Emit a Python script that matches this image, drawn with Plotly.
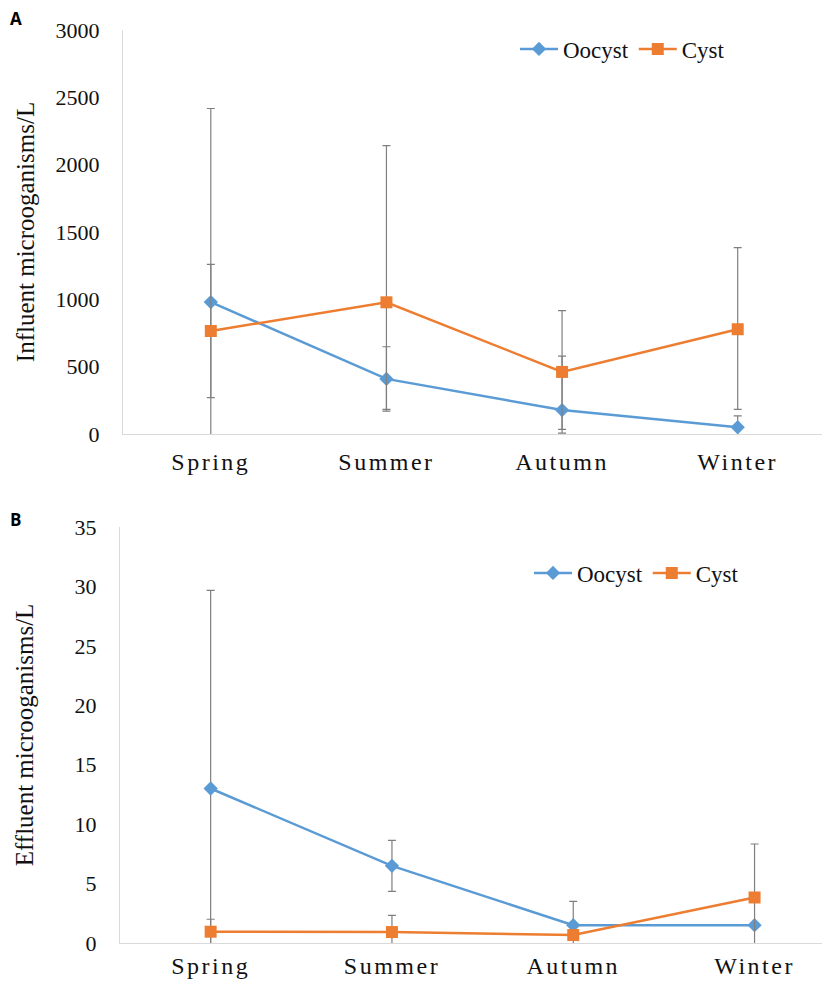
import plotly.graph_objects as go

seasons = ["Spring", "Summer", "Autumn", "Winter"]

# Panel A: influent
inf_oocyst = [980, 409, 178, 50]
inf_oocyst_plus = [1437, 239, 401, 84]
inf_oocyst_minus = [1437, 239, 143, 84]
inf_cyst = [765, 978, 461, 778]
inf_cyst_plus = [495, 1163, 455, 606]
inf_cyst_minus = [495, 795, 455, 595]

# Panel B: effluent
eff_oocyst = [13.0, 6.49, 1.5, 1.5]
eff_oocyst_plus = [16.67, 2.15, 2.0, 0]
eff_oocyst_minus = [16.67, 2.15, 2.0, 0]
eff_cyst = [0.95, 0.92, 0.67, 3.83]
eff_cyst_plus = [1.05, 1.4, 0.3, 4.5]
eff_cyst_minus = [1.05, 1.4, 0.3, 4.5]

BLUE = "#5B9BD5"
ORANGE = "#ED7D31"
ERR = "#7F7F7F"
AXC = "#D9D9D9"
SERIF = "Liberation Serif"

W, H = 822, 983

def px_x(x):
    return x / W

def px_y(y):
    return 1 - y / H

fig = go.Figure()

def add_pair(oo, oo_p, oo_m, cy, cy_p, cy_m, xa, ya, leg):
    fig.add_trace(go.Scatter(
        x=seasons, y=oo, name="Oocyst", mode="lines+markers",
        line=dict(color=BLUE, width=2.5),
        marker=dict(symbol="diamond", size=11, color=BLUE),
        error_y=dict(type="data", symmetric=False, array=oo_p, arrayminus=oo_m,
                     color=ERR, thickness=1.2, width=4),
        xaxis=xa, yaxis=ya, legend=leg))
    fig.add_trace(go.Scatter(
        x=seasons, y=cy, name="Cyst", mode="lines+markers",
        line=dict(color=ORANGE, width=2.5),
        marker=dict(symbol="square", size=12, color=ORANGE),
        error_y=dict(type="data", symmetric=False, array=cy_p, arrayminus=cy_m,
                     color=ERR, thickness=1.2, width=4),
        xaxis=xa, yaxis=ya, legend=leg))

add_pair(inf_oocyst, inf_oocyst_plus, inf_oocyst_minus,
         inf_cyst, inf_cyst_plus, inf_cyst_minus, "x", "y", "legend")
add_pair(eff_oocyst, eff_oocyst_plus, eff_oocyst_minus,
         eff_cyst, eff_cyst_plus, eff_cyst_minus, "x2", "y2", "legend2")

xticktext = ['<span style="letter-spacing:2.5px">%s</span>' % s for s in seasons]

common_x = dict(
    type="category", showline=True, linecolor=AXC, linewidth=1.3,
    showgrid=False, zeroline=False, ticks="", automargin=False,
    tickvals=seasons, ticktext=xticktext,
    tickfont=dict(family=SERIF, size=24, color="#111"),
)
common_y = dict(
    showline=True, linecolor=AXC, linewidth=1.3, showgrid=False, automargin=False,
    zeroline=False, ticks="", tickfont=dict(family=SERIF, size=22, color="#111"),
    ticklabelstandoff=18,
)

legend_font = dict(family=SERIF, size=23, color="#111")

fig.update_layout(
    width=W, height=H,
    margin=dict(l=0, r=0, t=0, b=0, pad=0, autoexpand=False),
    font=dict(family=SERIF, color="#111"),
    paper_bgcolor="white", plot_bgcolor="white",
    showlegend=True,
    xaxis=dict(common_x, domain=[px_x(123), 1], range=[-0.5, 3.48], anchor="y",
               ticklabelstandoff=6),
    yaxis=dict(common_y, domain=[px_y(434), px_y(30)], range=[0, 3000], dtick=500,
               anchor="x",
               title=dict(text="Influent microoganisms/L", standoff=13,
                          font=dict(family=SERIF, size=25, color="#111"))),
    xaxis2=dict(common_x, domain=[px_x(120), 1], range=[-0.5, 3.372], anchor="y2",
                ticklabelstandoff=1),
    yaxis2=dict(common_y, domain=[px_y(943), px_y(527)], range=[0, 35], dtick=5,
                anchor="x2",
                title=dict(text="Effluent microoganisms/L", standoff=33,
                           font=dict(family=SERIF, size=25, color="#111"))),
    legend=dict(orientation="h", x=px_x(515), y=px_y(49), xanchor="left", yanchor="middle",
                font=legend_font, itemwidth=38,
                bgcolor="rgba(0,0,0,0)", tracegroupgap=0),
    legend2=dict(orientation="h", x=px_x(529), y=px_y(573), xanchor="left", yanchor="middle",
                 font=legend_font, itemwidth=38,
                 bgcolor="rgba(0,0,0,0)", tracegroupgap=0),
    annotations=[
        dict(text="<b>A</b>", x=px_x(8), y=px_y(18), xref="paper", yref="paper",
             xanchor="left", yanchor="middle", showarrow=False,
             font=dict(family="Open Sans", size=17, color="#000")),
        dict(text="<b>B</b>", x=px_x(8), y=px_y(519), xref="paper", yref="paper",
             xanchor="left", yanchor="middle", showarrow=False,
             font=dict(family="Open Sans", size=17, color="#000")),
    ],
)

fig.write_html("out.html")
